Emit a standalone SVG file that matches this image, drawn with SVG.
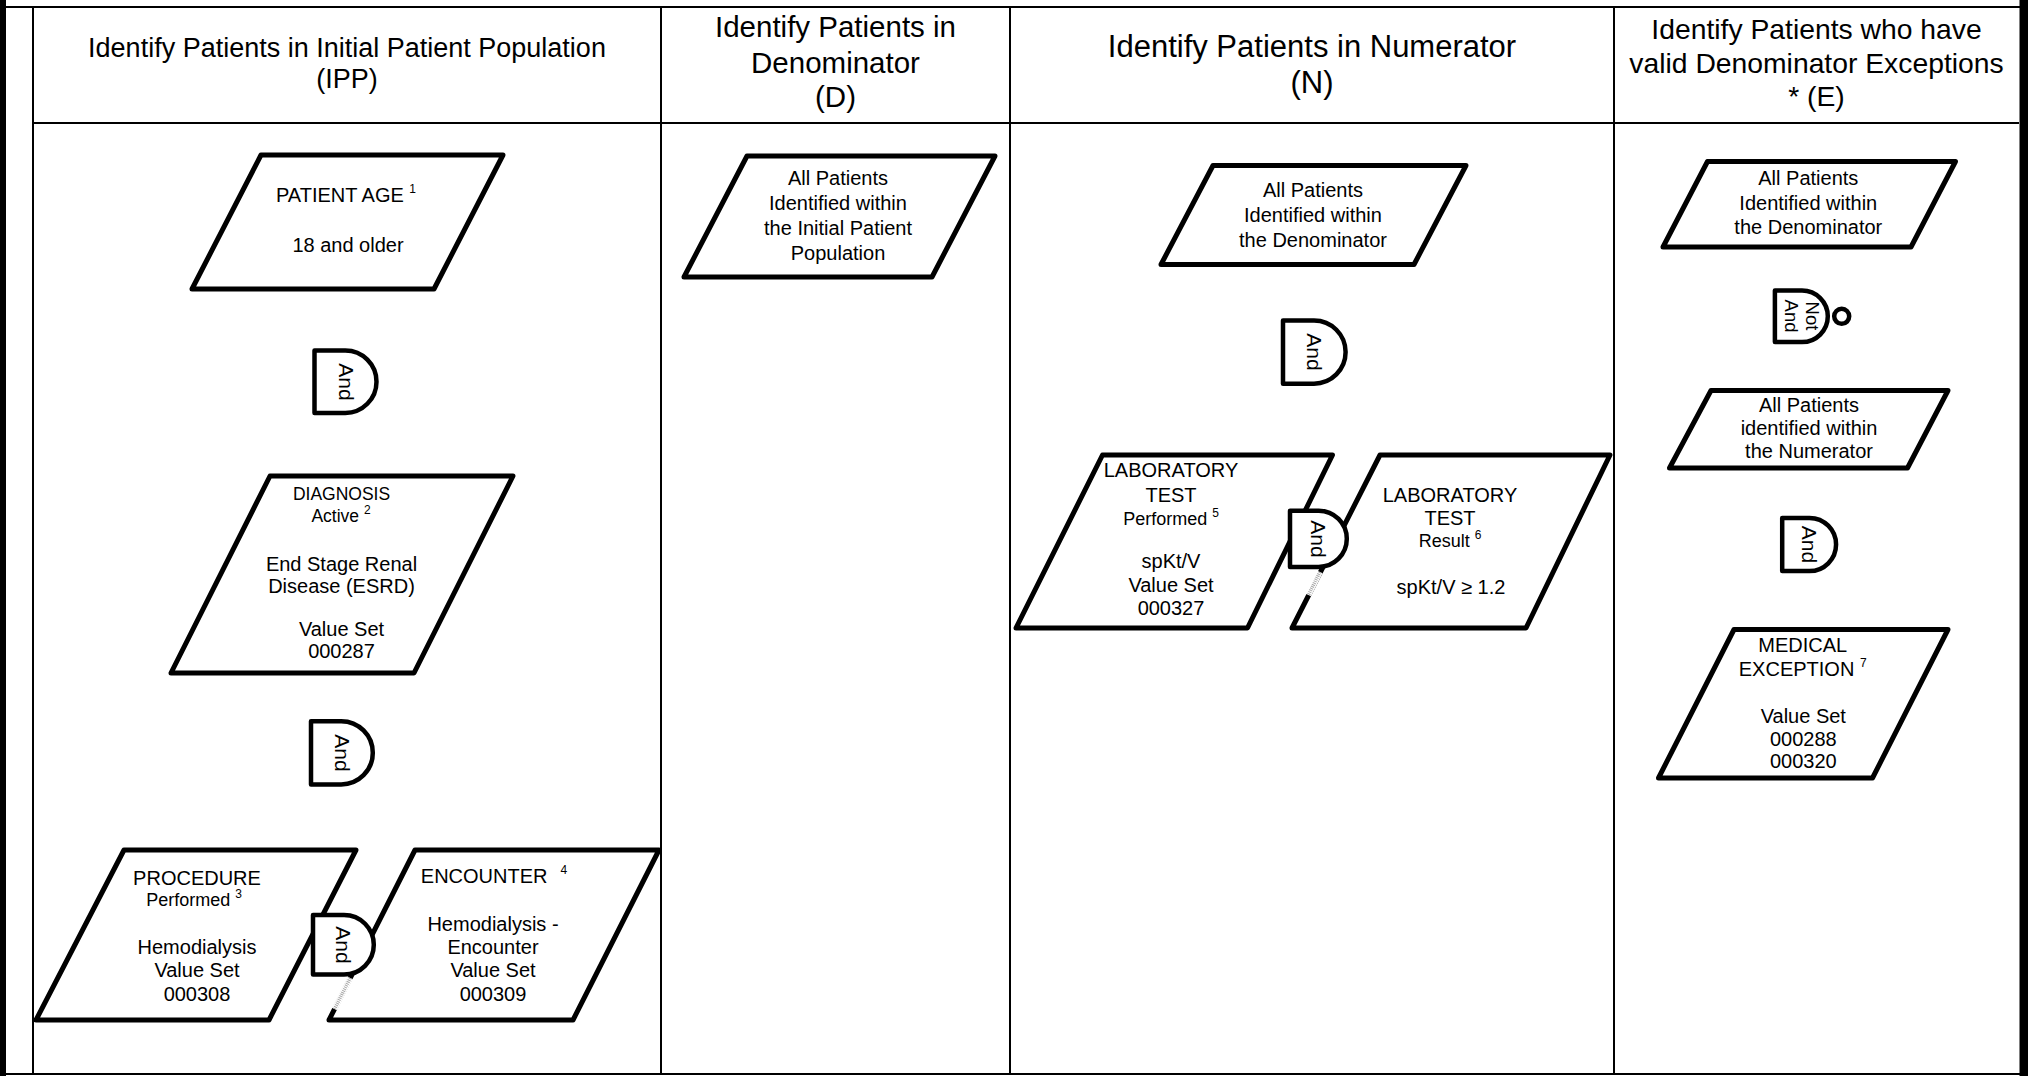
<svg xmlns="http://www.w3.org/2000/svg" width="2028" height="1076" viewBox="0 0 2028 1076">
<style>
text{font-family:"Liberation Sans",Arial,Helvetica,sans-serif;fill:#000;text-anchor:middle}
.frame{stroke:#000;stroke-width:2;fill:none}
.node{fill:#fff;stroke:#000;stroke-width:5;stroke-linejoin:round}
.gate{fill:#fff;stroke:#000;stroke-width:4.5;stroke-linejoin:round}
.t{font-size:20px}
.s{font-size:17.5px}
.s2{font-size:18px}
.sup{font-size:12px}
.g{font-size:21px;dominant-baseline:central}
.gn{font-size:18.5px;dominant-baseline:central}
.art{fill:none;stroke:#a8a8a8;stroke-width:3.5;stroke-dasharray:1 1}
.artbg{fill:none;stroke:#fff;stroke-width:6}
</style>
<rect width="2028" height="1076" fill="#fff"/>
<g id="frame">
<rect x="0" y="0" width="6" height="1076" fill="#000"/>
<rect x="2019.5" y="0" width="8.5" height="1076" fill="#000"/>
<line class="frame" x1="0" y1="7" x2="2028" y2="7"/>
<line class="frame" x1="0" y1="1074" x2="2028" y2="1074"/>
<line class="frame" x1="33" y1="7" x2="33" y2="1074"/>
<line class="frame" x1="661" y1="7" x2="661" y2="1074"/>
<line class="frame" x1="1010" y1="7" x2="1010" y2="1074"/>
<line class="frame" x1="1614" y1="7" x2="1614" y2="1074"/>
<line class="frame" x1="33" y1="123" x2="2019" y2="123"/>
</g>
<g id="headers">
<text font-size="27" x="347" y="56.7">Identify Patients in Initial Patient Population</text>
<text font-size="27" x="347" y="88">(IPP)</text>
<text font-size="29.5" x="835.5" y="37.3">Identify Patients in</text>
<text font-size="29.5" x="835.5" y="73.3">Denominator</text>
<text font-size="29.5" x="835.5" y="107">(D)</text>
<text font-size="31" x="1312" y="56.7">Identify Patients in Numerator</text>
<text font-size="31" x="1312" y="93">(N)</text>
<text font-size="28.3" x="1816.5" y="39.3">Identify Patients who have</text>
<text font-size="28.3" x="1816.5" y="72.7">valid Denominator Exceptions</text>
<text font-size="28.3" x="1816.5" y="106">* (E)</text>
</g>
<g id="node-patient-age">
<polygon class="node" points="261,155 503,155 434,289 192,289"/>
<text class="t" x="346" y="202">PATIENT AGE <tspan class="sup" dy="-9">1</tspan></text>
<text class="t" x="348" y="252">18 and older</text>
</g>
<g id="node-diagnosis">
<polygon class="node" points="270,476 513,476 414,673 171,673"/>
<text class="s" x="341.5" y="500">DIAGNOSIS</text>
<text class="s" x="341" y="521.7">Active <tspan class="sup" dy="-8">2</tspan></text>
<text class="t" x="341.5" y="570.7">End Stage Renal</text>
<text class="t" x="341.5" y="593.3">Disease (ESRD)</text>
<text class="t" x="341.5" y="635.7">Value Set</text>
<text class="t" x="341.5" y="658.3">000287</text>
</g>
<g id="node-procedure">
<polygon class="node" points="124,850 356,850 269,1020 36,1020"/>
<text class="t" x="197" y="885">PROCEDURE</text>
<text class="s2" x="194" y="906">Performed <tspan class="sup" dy="-8">3</tspan></text>
<text class="t" x="197" y="954">Hemodialysis</text>
<text class="t" x="197" y="977.3">Value Set</text>
<text class="t" x="197" y="1000.7">000308</text>
</g>
<g id="node-encounter">
<polygon class="node" points="415,850 659,850 573,1020 329,1020"/>
<text class="t" x="494" y="883">ENCOUNTER<tspan class="sup" dx="13" dy="-9">4</tspan></text>
<text class="t" x="493" y="931">Hemodialysis -</text>
<text class="t" x="493" y="954">Encounter</text>
<text class="t" x="493" y="977.3">Value Set</text>
<text class="t" x="493" y="1000.7">000309</text>
</g>
<g id="node-d-all">
<polygon class="node" points="747,156 995,156 932,277 684,277"/>
<text class="t" x="838" y="185.3">All Patients</text>
<text class="t" x="838" y="210">Identified within</text>
<text class="t" x="838" y="235">the Initial Patient</text>
<text class="t" x="838" y="259.5">Population</text>
</g>
<g id="node-n-all">
<polygon class="node" points="1213,165.5 1466,165.5 1414,264.5 1161,264.5"/>
<text class="t" x="1313" y="196.7">All Patients</text>
<text class="t" x="1313" y="221.7">Identified within</text>
<text class="t" x="1313" y="246.7">the Denominator</text>
</g>
<g id="node-lab-performed">
<polygon class="node" points="1102.5,455 1332.5,455 1247.5,628 1016,628"/>
<text class="t" x="1171" y="476.7">LABORATORY</text>
<text class="t" x="1171" y="501.7">TEST</text>
<text class="s2" x="1171" y="525">Performed <tspan class="sup" dy="-8">5</tspan></text>
<text class="t" x="1171" y="568.3">spKt/V</text>
<text class="t" x="1171" y="591.7">Value Set</text>
<text class="t" x="1171" y="615">000327</text>
</g>
<g id="node-lab-result">
<polygon class="node" points="1380,455 1610,455 1526,628 1292,628"/>
<text class="t" x="1450" y="501.7">LABORATORY</text>
<text class="t" x="1450" y="525">TEST</text>
<text class="s2" x="1450" y="546.7">Result <tspan class="sup" dy="-8">6</tspan></text>
<text class="t" x="1451" y="594">spKt/V ≥ 1.2</text>
</g>
<g id="node-e-den">
<polygon class="node" points="1707.5,161.5 1955.5,161.5 1911,247 1663,247"/>
<text class="t" x="1808.3" y="185">All Patients</text>
<text class="t" x="1808.3" y="210">Identified within</text>
<text class="t" x="1808.3" y="234.3">the Denominator</text>
</g>
<g id="node-e-num">
<polygon class="node" points="1711,390.5 1948,390.5 1907.5,468 1669.5,468"/>
<text class="t" x="1809" y="411.7">All Patients</text>
<text class="t" x="1809" y="435">identified within</text>
<text class="t" x="1809" y="458">the Numerator</text>
</g>
<g id="node-e-medical">
<polygon class="node" points="1734,629.5 1948,629.5 1872.5,778 1658.5,778"/>
<text class="t" x="1802.7" y="651.7">MEDICAL</text>
<text class="t" x="1802.7" y="676">EXCEPTION <tspan class="sup" dy="-9">7</tspan></text>
<text class="t" x="1803.3" y="722.7">Value Set</text>
<text class="t" x="1803.3" y="746">000288</text>
<text class="t" x="1803.3" y="768.3">000320</text>
</g>
<g id="connectors">
<line class="artbg" x1="350.2" y1="978" x2="334.5" y2="1009"/>
<line class="art" x1="350.2" y1="978" x2="334.5" y2="1009"/>
<line class="artbg" x1="1319.9" y1="572" x2="1308.4" y2="595"/>
<line class="art" x1="1319.9" y1="572" x2="1308.4" y2="595"/>
</g>
<g id="gate-ipp-1">
<path class="gate" d="M314.5 350.5 H345.3 A31.2 31.2 0 0 1 345.3 412.9 H314.5 Z"/>
<text class="g" transform="translate(346 382) rotate(90)">And</text>
</g>
<g id="gate-ipp-2">
<path class="gate" d="M311 721.2 H341.2 A31.6 31.6 0 0 1 341.2 784.4 H311 Z"/>
<text class="g" transform="translate(342 753) rotate(90)">And</text>
</g>
<g id="gate-ipp-3">
<path class="gate" d="M313 915 H344 A29.8 29.8 0 0 1 344 974.6 H313 Z"/>
<text class="g" transform="translate(343 945) rotate(90)">And</text>
</g>
<g id="gate-n-1">
<path class="gate" d="M1283 320.5 H1314 A31.6 31.6 0 0 1 1314 383.7 H1283 Z"/>
<text class="g" transform="translate(1314 352) rotate(90)">And</text>
</g>
<g id="gate-n-2">
<path class="gate" d="M1290 510.7 H1318.7 A28.1 28.1 0 0 1 1318.7 566.9 H1290 Z"/>
<text class="g" transform="translate(1318 539) rotate(90)">And</text>
</g>
<g id="gate-e-notand">
<path class="gate" d="M1774.9 290.5 H1802 A25.8 25.8 0 0 1 1802 342.1 H1774.9 Z"/>
<circle class="gate" cx="1841.7" cy="316.3" r="7.5"/>
<text class="gn" transform="translate(1812 316) rotate(90)">Not</text>
<text class="gn" transform="translate(1791 316) rotate(90)">And</text>
</g>
<g id="gate-e-and">
<path class="gate" d="M1782.2 517.9 H1809.5 A26.6 26.6 0 0 1 1809.5 571.1 H1782.2 Z"/>
<text class="g" transform="translate(1809 544.5) rotate(90)">And</text>
</g>
</svg>
